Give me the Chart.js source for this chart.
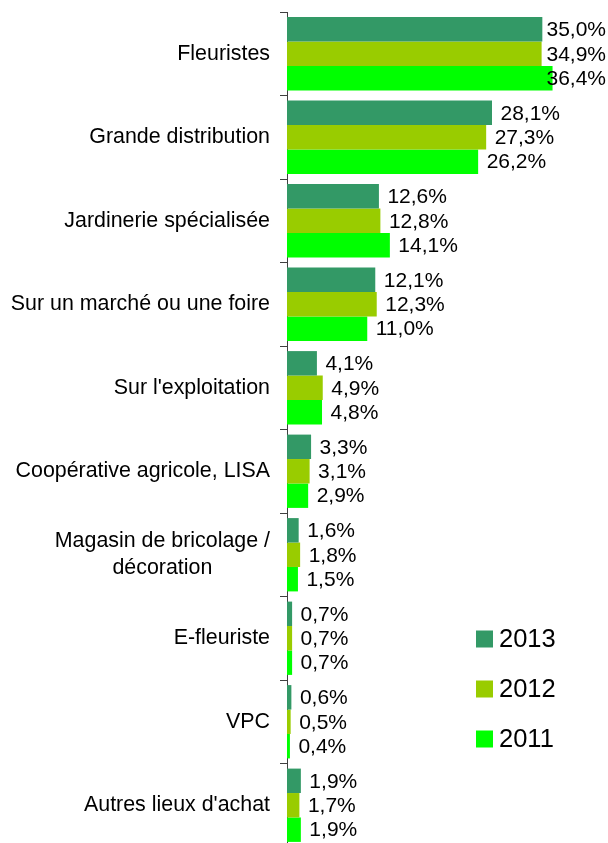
<!DOCTYPE html>
<html>
<head>
<meta charset="utf-8">
<script src="https://cdn.jsdelivr.net/npm/chart.js@4.4.1/dist/chart.umd.min.js"></script>
<style>
  html, body { margin: 0; padding: 0; background: #fff; overflow: hidden; }
  canvas { display: block; }
</style>
</head>
<body>
<canvas id="lieux-chart" width="608" height="850"></canvas>
<script>
// lieux d'achat (une entrée par ligne de texte)
const categories = [
  ['Fleuristes'],
  ['Grande distribution'],
  ['Jardinerie spécialisée'],
  ['Sur un marché ou une foire'],
  ["Sur l'exploitation"],
  ['Coopérative agricole, LISA'],
  ['Magasin de bricolage /', 'décoration'],
  ['E-fleuriste'],
  ['VPC'],
  ["Autres lieux d'achat"]
];
const years = ['2013', '2012', '2011'];
const values2013 = [35.0, 28.1, 12.6, 12.1, 4.1, 3.3, 1.6, 0.7, 0.6, 1.9];
const values2012 = [34.9, 27.3, 12.8, 12.3, 4.9, 3.1, 1.8, 0.7, 0.5, 1.7];
const values2011 = [36.4, 26.2, 14.1, 11.0, 4.8, 2.9, 1.5, 0.7, 0.4, 1.9];
const colors = ['#339966', '#99cc00', '#00ff00'];

const FONT = '"Liberation Sans", Arial, sans-serif';

function formatPct(v) {
  return v.toFixed(1).replace('.', ',') + '%';
}

// libellés des catégories, alignés à droite, lignes centrées entre elles (style Excel)
const categoryLabels = {
  id: 'categoryLabels',
  afterDraw(chart) {
    const ctx = chart.ctx;
    const yScale = chart.scales.y;
    const right = chart.chartArea.left - 17;
    const lineH = 27;
    ctx.save();
    ctx.font = '21.4px ' + FONT;
    ctx.fillStyle = '#000';
    ctx.textAlign = 'center';
    ctx.textBaseline = 'middle';
    categories.forEach((lines, i) => {
      const widest = Math.max(...lines.map(l => ctx.measureText(l).width));
      const cx = right - widest / 2;
      const cy = yScale.getPixelForValue(i);
      const top = cy - (lines.length - 1) * lineH / 2;
      lines.forEach((l, k) => ctx.fillText(l, cx, top + k * lineH));
    });
    ctx.restore();
  }
};

// valeurs au bout des barres
const valueLabels = {
  id: 'valueLabels',
  afterDatasetsDraw(chart) {
    const ctx = chart.ctx;
    ctx.save();
    ctx.font = '21px ' + FONT;
    ctx.fillStyle = '#000';
    ctx.textAlign = 'left';
    ctx.textBaseline = 'middle';
    chart.data.datasets.forEach((ds, d) => {
      const meta = chart.getDatasetMeta(d);
      meta.data.forEach((bar, i) => {
        const txt = formatPct(ds.data[i]);
        const w = ctx.measureText(txt).width;
        let x = bar.x + 8.5;
        if (x + w > chart.width - 2) x = chart.width - 2 - w;
        ctx.fillText(txt, x, bar.y + 1);
      });
    });
    ctx.restore();
  }
};

// légende en bas à droite
const sideLegend = {
  id: 'sideLegend',
  afterDraw(chart) {
    const ctx = chart.ctx;
    ctx.save();
    ctx.font = '25.5px ' + FONT;
    ctx.textBaseline = 'middle';
    chart.data.datasets.forEach((ds, d) => {
      const cy = 639 + d * 50;
      ctx.fillStyle = ds.backgroundColor;
      ctx.fillRect(476, cy - 8.5, 17, 17);
      ctx.fillStyle = '#000';
      ctx.fillText(ds.label, 499, cy + 1);
    });
    ctx.restore();
  }
};

const ctx = document.getElementById('lieux-chart').getContext('2d');
new Chart(ctx, {
  type: 'bar',
  data: {
    labels: categories,
    datasets: [
      { label: years[0], data: values2013, backgroundColor: colors[0] },
      { label: years[1], data: values2012, backgroundColor: colors[1] },
      { label: years[2], data: values2011, backgroundColor: colors[2] }
    ]
  },
  options: {
    indexAxis: 'y',
    responsive: false,
    animation: false,
    devicePixelRatio: 1,
    layout: { padding: { top: 12, bottom: 3, left: 0, right: 0 } },
    datasets: { bar: { categoryPercentage: 0.878, barPercentage: 1.0 } },
    plugins: {
      legend: { display: false },
      tooltip: { enabled: false }
    },
    scales: {
      x: {
        display: false,
        min: 0,
        max: 44
      },
      y: {
        offset: true,
        afterFit: (scale) => { scale.width = 287; },
        ticks: { display: false },
        grid: {
          display: true,
          offset: true,
          drawOnChartArea: false,
          drawTicks: true,
          tickLength: 7,
          color: '#404040'
        },
        border: { display: true, color: '#404040', width: 1 }
      }
    }
  },
  plugins: [categoryLabels, valueLabels, sideLegend]
});
</script>
</body>
</html>
